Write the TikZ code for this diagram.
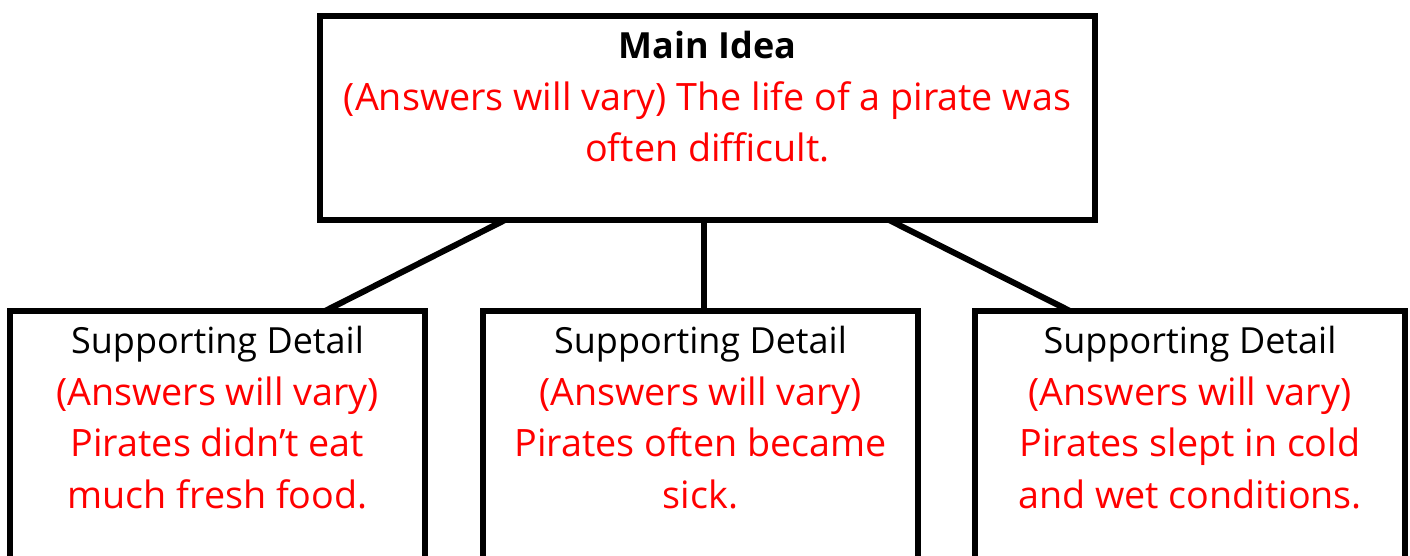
\documentclass[tikz,border=0pt]{standalone}
\usepackage{fontspec}
\setmainfont{Open Sans}
\usetikzlibrary{calc}
\newcommand\anstext[1]{{\color{red}\fontsize{37.7}{51.5}\selectfont #1}}
\begin{document}
\begin{tikzpicture}[x=1pt,y=-1pt,
  box/.style={draw=black,line width=6pt,outer sep=0pt,inner sep=0pt,fill=none},
  txt/.style={align=center,inner sep=0pt,anchor=base,font=\fontsize{36}{51.5}\selectfont},
  conn/.style={draw=black,line width=6pt}]
\path[use as bounding box] (0,0) rectangle (1410,556);
% boxes
\node[box,minimum width=775pt,minimum height=204pt] (top) at (707.5,118) {};
\node[box,minimum width=415pt,minimum height=309pt] (left) at (217.5,465.5) {};
\node[box,minimum width=435pt,minimum height=309pt] (mid) at (700.5,465.5) {};
\node[box,minimum width=430pt,minimum height=309pt] (right) at (1190,465.5) {};
% texts (anchor base = baseline of the last line)
\node[txt] (toptxt) at (707.5,162) {\textbf{Main Idea}\\\anstext{(Answers will vary) The life of a pirate was}\\\anstext{often difficult.}};
\node[txt] (lefttxt) at (217.5,508) {Supporting Detail\\\anstext{(Answers will vary)}\\\anstext{Pirates didn’t eat}\\\anstext{much fresh food.}};
\node[txt] (midtxt) at (700.5,508) {Supporting Detail\\\anstext{(Answers will vary)}\\\anstext{Pirates often became}\\\anstext{sick.}};
\node[txt] (righttxt) at (1190,508) {Supporting Detail\\\anstext{(Answers will vary)}\\\anstext{Pirates slept in cold}\\\anstext{and wet conditions.}};
% connectors
\draw[conn] ($(top.south west)+(185,0)$) -- ($(left.north west)+(315,0)$);
\draw[conn] ($(top.south west)+(383.5,0)$) -- ($(mid.north west)+(220.5,0)$);
\draw[conn] ($(top.south west)+(569,0)$) -- ($(right.north west)+(95,0)$);
\end{tikzpicture}
\end{document}
